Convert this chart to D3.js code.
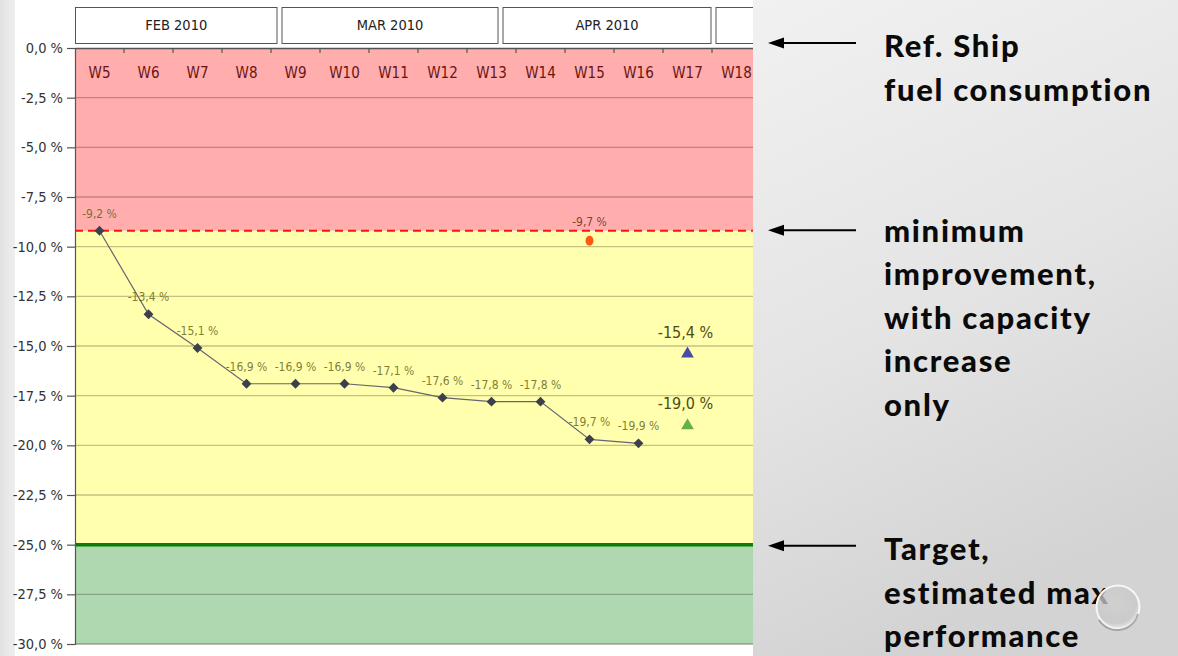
<!DOCTYPE html>
<html>
<head>
<meta charset="utf-8">
<script src="https://cdn.jsdelivr.net/npm/d3@7"></script>
<style>
  html, body { margin: 0; padding: 0; background: #ffffff; }
  svg { display: block; }
</style>
</head>
<body>
<svg id="chart" width="1178" height="656"></svg>
<script>
// ---------------- data ----------------
const weeks = ["W5","W6","W7","W8","W9","W10","W11","W12","W13","W14","W15","W16","W17","W18"];
const actualWeeks = ["W5","W6","W7","W8","W9","W10","W11","W12","W13","W14","W15","W16"];
const actualValues = [-9.2, -13.4, -15.1, -16.9, -16.9, -16.9, -17.1, -17.6, -17.8, -17.8, -19.7, -19.9];
const refWeek = "W15";
const refValue = -9.7;
const capacityWeek = "W17";
const capacityValue = -15.4;
const estimateWeek = "W17";
const estimateValue = -19.0;
const minImprovement = -9.2;
const targetValue = -25.0;
const yTicks = [0, -2.5, -5, -7.5, -10, -12.5, -15, -17.5, -20, -22.5, -25, -27.5, -30];
const monthLabels = ["FEB 2010", "MAR 2010", "APR 2010", "MAY 2010"];
const monthStarts = ["2010-02-01", "2010-03-01", "2010-04-01", "2010-05-01"];
const monthEnds = ["2010-03-01", "2010-04-01", "2010-05-01", "2010-06-01"];
const noteGroups = [
  { anchor: 0.0, lines: ["Ref. Ship", "fuel consumption"] },
  { anchor: minImprovement, lines: ["minimum", "improvement,", "with capacity", "increase", "only"] },
  { anchor: targetValue, lines: ["Target,", "estimated max", "performance"] }
];

// ---------------- layout ----------------
const svg = d3.select("#chart");
const W = 1178, H = 656;
const plotL = 75, plotR = 753, plotT = 48, plotB = 644;

const locale = d3.formatLocale({ decimal: ",", thousands: ".", grouping: [3], currency: ["", ""], minus: "-" });
const fmt = v => locale.format(".1f")(v) + " %";

const x = d3.scaleBand().domain(weeks).range([plotL, plotL + 49 * weeks.length]).padding(0);
const y = d3.scaleLinear().domain([0, -30]).range([plotT, plotB]);
const parse = d3.timeParse("%Y-%m-%d");
const xm = d3.scaleTime()
  .domain([parse("2010-02-01"), parse("2010-03-01"), parse("2010-04-01"), parse("2010-05-01"), parse("2010-06-01")])
  .range([73, 279.5, 500.5, 713.5, 934]);

const defs = svg.append("defs");
const clip = defs.append("clipPath").attr("id", "plotclip");
clip.append("rect").attr("x", 0).attr("y", 0).attr("width", plotR).attr("height", H);

const gPanel = defs.append("linearGradient").attr("id", "panelGrad")
  .attr("x1", 0).attr("y1", 0).attr("x2", 0.3).attr("y2", 1);
gPanel.append("stop").attr("offset", "0%").attr("stop-color", "#f1f1f1");
gPanel.append("stop").attr("offset", "55%").attr("stop-color", "#e4e4e4");
gPanel.append("stop").attr("offset", "100%").attr("stop-color", "#d3d3d3");

const gLeft = defs.append("linearGradient").attr("id", "leftGrad")
  .attr("x1", 0).attr("y1", 0).attr("x2", 1).attr("y2", 0);
gLeft.append("stop").attr("offset", "0%").attr("stop-color", "#e2e2e2");
gLeft.append("stop").attr("offset", "100%").attr("stop-color", "#efefef");

const gBubble = defs.append("radialGradient").attr("id", "bubbleGrad")
  .attr("cx", "45%").attr("cy", "40%").attr("r", "60%");
gBubble.append("stop").attr("offset", "0%").attr("stop-color", "#cfcfcf");
gBubble.append("stop").attr("offset", "80%").attr("stop-color", "#c8c8c8");
gBubble.append("stop").attr("offset", "100%").attr("stop-color", "#eeeeee");

// slide background
svg.append("rect").attr("x", 0).attr("y", 0).attr("width", W).attr("height", H).attr("fill", "#ffffff");
svg.append("rect").attr("x", 0).attr("y", 0).attr("width", 15).attr("height", H).attr("fill", "url(#leftGrad)");

const plot = svg.append("g").attr("clip-path", "url(#plotclip)");
const xr = x.range()[1];

// zones
plot.append("rect").attr("x", plotL).attr("width", xr - plotL)
  .attr("y", y(0)).attr("height", y(minImprovement) - y(0)).attr("fill", "#ffadad");
plot.append("rect").attr("x", plotL).attr("width", xr - plotL)
  .attr("y", y(minImprovement)).attr("height", y(targetValue) - y(minImprovement)).attr("fill", "#ffffad");
plot.append("rect").attr("x", plotL).attr("width", xr - plotL)
  .attr("y", y(targetValue)).attr("height", y(-30) - y(targetValue)).attr("fill", "#b0d8b0");

// gridlines
plot.append("g").selectAll("line").data(yTicks.filter(v => v !== 0 && v !== -30 && v !== targetValue))
  .join("line")
  .attr("x1", plotL).attr("x2", xr)
  .attr("y1", d => y(d)).attr("y2", d => y(d))
  .attr("stroke", "#000").attr("stroke-opacity", 0.24).attr("stroke-width", 1.4);

// month header boxes
const mg = plot.append("g");
monthLabels.forEach((lab, i) => {
  const x0 = xm(parse(monthStarts[i])) + 2.5;
  const x1 = xm(parse(monthEnds[i])) - 2.5;
  mg.append("rect").attr("x", x0).attr("y", 7.5).attr("width", x1 - x0).attr("height", 36)
    .attr("fill", "#fff").attr("stroke", "#555").attr("stroke-width", 1);
  mg.append("text").attr("x", (x0 + x1) / 2).attr("y", 25.5)
    .attr("text-anchor", "middle").attr("dominant-baseline", "middle")
    .attr("font-family", "DejaVu Sans Condensed, DejaVu Sans, sans-serif")
    .attr("font-size", 14.5).attr("fill", "#222").text(lab);
});

// target line
plot.append("line").attr("x1", plotL).attr("x2", xr)
  .attr("y1", y(targetValue)).attr("y2", y(targetValue))
  .attr("stroke", "#0a7d0a").attr("stroke-width", 3.5);

// minimum improvement dashed line
plot.append("line").attr("x1", plotL).attr("x2", xr)
  .attr("y1", y(minImprovement)).attr("y2", y(minImprovement))
  .attr("stroke", "#ff1010").attr("stroke-width", 2.2).attr("stroke-dasharray", "8,5");

// x axis at top
const xAxis = d3.axisBottom(x).tickSize(0).tickPadding(0);
const gx = plot.append("g").attr("transform", `translate(0,${plotT})`).call(xAxis);
gx.select(".domain").attr("stroke", "#555").attr("stroke-width", 1.5);
gx.selectAll(".tick text").attr("y", 25).attr("dy", "0.35em")
  .attr("font-family", "DejaVu Sans Condensed, DejaVu Sans, sans-serif")
  .attr("font-size", 15).attr("fill", "#6b1414");
plot.append("g").selectAll("line").data(weeks.slice(1))
  .join("line")
  .attr("x1", d => x(d)).attr("x2", d => x(d))
  .attr("y1", plotT).attr("y2", plotT + 5)
  .attr("stroke", "#555").attr("stroke-width", 1.2);

// y axis
const yAxis = d3.axisLeft(y).tickValues(yTicks).tickSize(8).tickPadding(4).tickFormat(fmt);
const gy = svg.append("g").attr("transform", `translate(${plotL},0)`).call(yAxis);
gy.select(".domain").attr("stroke", "#555").attr("stroke-width", 1.2);
gy.selectAll(".tick line").attr("stroke", "#555").attr("stroke-width", 1.2);
gy.selectAll(".tick text")
  .attr("font-family", "DejaVu Sans Condensed, DejaVu Sans, sans-serif")
  .attr("font-size", 14.5).attr("fill", "#333");
// bottom border
plot.append("line").attr("x1", plotL).attr("x2", xr).attr("y1", plotB).attr("y2", plotB)
  .attr("stroke", "#777").attr("stroke-width", 1);

// main series
const pts = actualWeeks.map((w, i) => ({ w, v: actualValues[i] }));
const cx = d => x(d.w) + x.bandwidth() / 2;
plot.append("path").datum(pts)
  .attr("d", d3.line().x(cx).y(d => y(d.v)))
  .attr("fill", "none").attr("stroke", "#66666e").attr("stroke-width", 1.2);
plot.append("g").selectAll("path").data(pts).join("path")
  .attr("d", d3.symbol(d3.symbolDiamond2, 62))
  .attr("transform", d => `translate(${cx(d)},${y(d.v)})`)
  .attr("fill", "#3d404c");
plot.append("g").selectAll("text").data(pts).join("text")
  .attr("x", cx).attr("y", d => y(d.v) - 13)
  .attr("text-anchor", "middle")
  .attr("font-family", "DejaVu Sans Condensed, DejaVu Sans, sans-serif")
  .attr("font-size", 12).attr("fill", "#5c5a14").attr("fill-opacity", 0.8)
  .text(d => fmt(d.v));

// reference point W15
const rx = x(refWeek) + x.bandwidth() / 2;
plot.append("ellipse").attr("cx", rx).attr("cy", y(refValue)).attr("rx", 4).attr("ry", 5)
  .attr("fill", "#ff5a14");
plot.append("text").attr("x", rx).attr("y", y(refValue) - 15)
  .attr("text-anchor", "middle")
  .attr("font-family", "DejaVu Sans Condensed, DejaVu Sans, sans-serif")
  .attr("font-size", 12).attr("fill", "#6a2a20").attr("fill-opacity", 0.85)
  .text(fmt(refValue));

// capacity (blue) and estimate (green) triangles
const tri = [
  { w: capacityWeek, v: capacityValue, c: "#4a4aa8" },
  { w: estimateWeek, v: estimateValue, c: "#66b04c" }
];
plot.append("g").selectAll("path").data(tri).join("path")
  .attr("d", d3.symbol(d3.symbolTriangle, 70))
  .attr("transform", d => `translate(${x(d.w) + x.bandwidth() / 2},${y(d.v)})`)
  .attr("fill", d => d.c);
plot.append("g").selectAll("text").data(tri).join("text")
  .attr("x", d => x(d.w) + x.bandwidth() / 2 - 2).attr("y", d => y(d.v) - 16)
  .attr("text-anchor", "middle")
  .attr("font-family", "DejaVu Sans Condensed, DejaVu Sans, sans-serif")
  .attr("font-size", 16).attr("fill", "#4e4c14")
  .text(d => fmt(d.v));

// right gray panel
svg.append("rect").attr("x", plotR).attr("y", 0).attr("width", W - plotR).attr("height", H)
  .attr("fill", "url(#panelGrad)");

// arrows + notes
const arrowY = [43, y(minImprovement) - 0.5, y(targetValue) + 1];
const lineStarts = [57, 241.5, 560];
const ag = svg.append("g");
noteGroups.forEach((g, i) => {
  const ay = arrowY[i];
  ag.append("line").attr("x1", 780).attr("x2", 856).attr("y1", ay).attr("y2", ay)
    .attr("stroke", "#000").attr("stroke-width", 2);
  ag.append("path")
    .attr("d", `M768,${ay} L784,${ay - 5.5} L784,${ay + 5.5} Z`).attr("fill", "#000");
  g.lines.forEach((t, j) => {
    ag.append("text").attr("x", 884).attr("y", lineStarts[i] + j * 43.6)
      .attr("font-family", "Lato, 'Open Sans', sans-serif").attr("font-weight", 900)
      .attr("font-size", 31).attr("letter-spacing", 1.7).attr("fill", "#0a0a0a")
      .text(t);
  });
});

// decorative bubble
svg.append("circle").attr("cx", 1118).attr("cy", 607).attr("r", 21.5)
  .attr("fill", "url(#bubbleGrad)").attr("fill-opacity", 0.75)
  .attr("stroke", "#f6f6f6").attr("stroke-width", 2);
svg.append("path").attr("d", "M1099,620 A21.5,21.5 0 0 0 1138,614")
  .attr("fill", "none").attr("stroke", "#8f8f8f").attr("stroke-width", 2).attr("stroke-opacity", 0.7);
</script>
</body>
</html>
